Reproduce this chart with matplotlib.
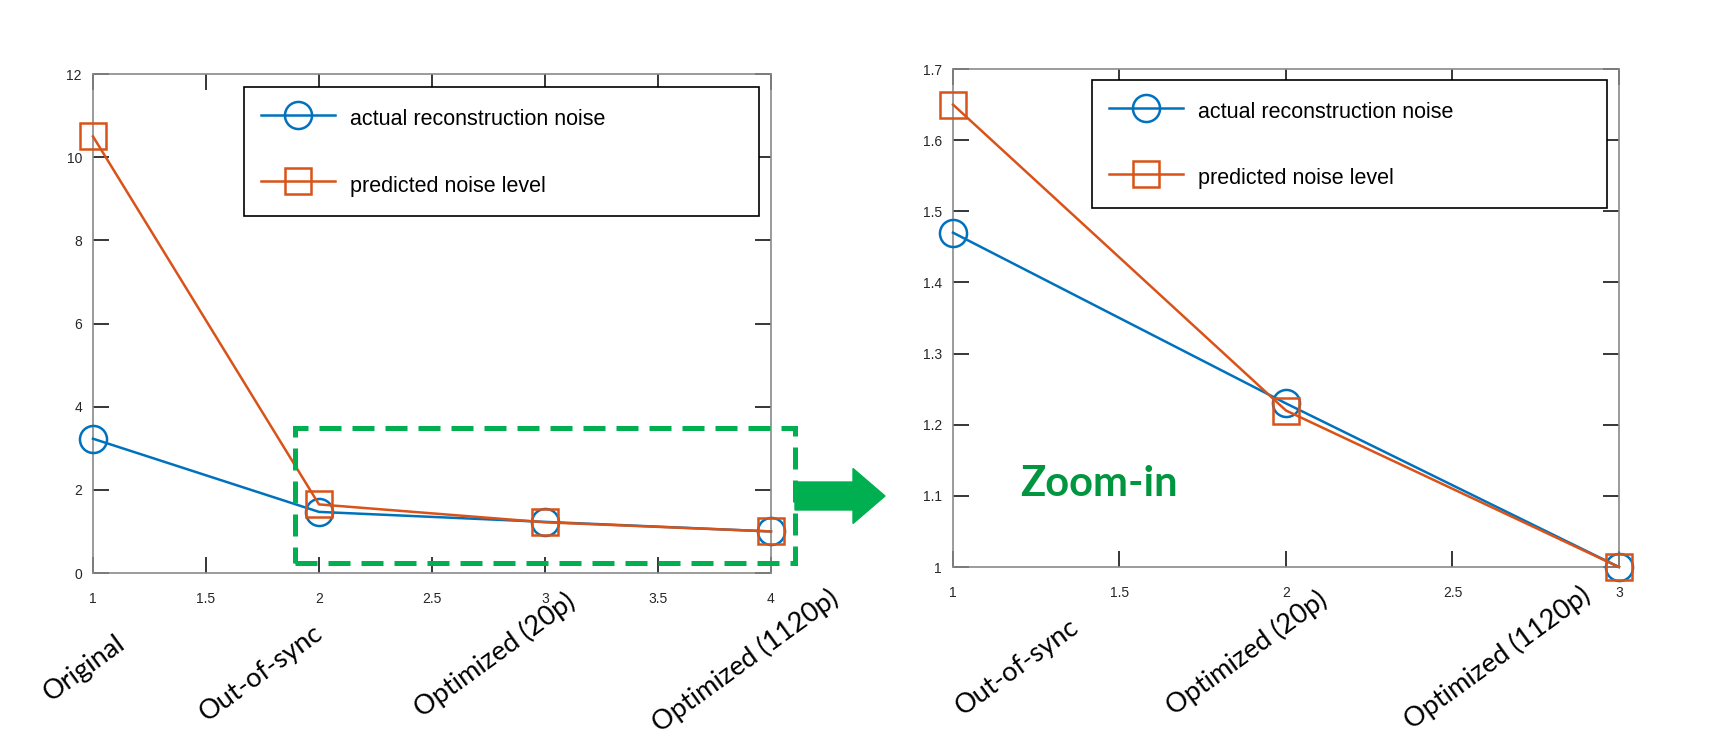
#!/usr/bin/env python

import matplotlib

matplotlib.use("Agg")
import matplotlib.pyplot as plt
import matplotlib.patches as patches

# Data
categories = ["Original", "Out-of-sync", "Optimized (20p)", "Optimized (1120p)"]
actual_noise = [3.23, 1.47, 1.23, 1.0]
predicted_noise = [10.5, 1.65, 1.22, 1.0]
full_xticks = [1, 1.5, 2, 2.5, 3, 3.5, 4]
full_yticks = [0, 2, 4, 6, 8, 10, 12]
zoom_xticks = [1, 1.5, 2, 2.5, 3]
zoom_yticks = [1, 1.1, 1.2, 1.3, 1.4, 1.5, 1.6, 1.7]
legend_labels = ["actual reconstruction noise", "predicted noise level"]

BLUE = "#0072BD"
ORANGE = "#D95319"
GREEN = "#00B050"
TICK_FONT = ["Liberation Sans", "DejaVu Sans"]
CAT_FONT = ["Lato", "DejaVu Sans"]


def style_axis(axis: plt.Axes, xticks: list, yticks: list) -> None:
    """MATLAB-like box with inward ticks on all four sides."""
    axis.set_xticks(xticks)
    axis.set_yticks(yticks)
    axis.set_xticklabels([f"{t:g}" for t in xticks])
    axis.set_yticklabels([f"{t:g}" for t in yticks])
    axis.set_xlim(xticks[0], xticks[-1])
    axis.set_ylim(yticks[0], yticks[-1])
    for spine in axis.spines.values():
        spine.set_color("#8a8a8a")
        spine.set_linewidth(1.2)
    axis.tick_params(
        direction="in", length=11.5, width=1.3, color="#262626",
        top=True, right=True, labelsize=10, labelcolor="#262626",
    )
    axis.tick_params(axis="x", pad=14)
    axis.tick_params(axis="y", pad=8)
    for lab in axis.get_xticklabels() + axis.get_yticklabels():
        lab.set_family(TICK_FONT)


def plot_series(axis: plt.Axes, xs: list, actual: list, predicted: list) -> None:
    axis.plot(xs, actual, color=BLUE, lw=1.8, marker="o", ms=19.5,
              mfc="none", mew=1.8, clip_on=False, zorder=3,
              label=legend_labels[0])
    axis.plot(xs, predicted, color=ORANGE, lw=1.8, marker="s", ms=19,
              mfc="none", mew=1.8, clip_on=False, zorder=4,
              label=legend_labels[1])


def add_legend(axis: plt.Axes, box: tuple) -> None:
    leg = axis.legend(
        loc="upper left", bbox_to_anchor=box, mode="expand",
        borderaxespad=0, borderpad=0.8, labelspacing=1.8,
        handlelength=3.4, handleheight=1.6, handletextpad=0.7,
        fancybox=False, framealpha=1, edgecolor="black",
        prop={"family": TICK_FONT, "size": 15.5},
    )
    leg.get_frame().set_linewidth(1.2)


def add_category_labels(fig: plt.Figure, names: list, anchors: list) -> None:
    for name, (px, py) in zip(names, anchors):
        fig.text(px / 1719, 1 - py / 739, name, rotation=36,
                 rotation_mode="anchor", ha="right", va="top",
                 fontsize=19.5, family=CAT_FONT, color="black")


def main() -> int:
    fig = plt.figure(figsize=(17.19, 7.39), dpi=100)
    ax_full = fig.add_axes([0.0541, 0.2246, 0.3944, 0.6752])
    ax_zoom = fig.add_axes([0.5544, 0.2327, 0.3874, 0.6739])

    xs_full = list(range(1, len(categories) + 1))
    xs_zoom = list(range(1, len(categories)))

    plot_series(ax_full, xs_full, actual_noise, predicted_noise)
    plot_series(ax_zoom, xs_zoom, actual_noise[1:], predicted_noise[1:])

    style_axis(ax_full, full_xticks, full_yticks)
    style_axis(ax_zoom, zoom_xticks, zoom_yticks)

    add_legend(ax_full, (0.223, 0.713, 0.759, 0.261))
    add_legend(ax_zoom, (0.209, 0.715, 0.773, 0.263))

    # dashed zoom region on the full chart
    rect = patches.Rectangle(
        (1.892, 0.24), 4.108 - 1.892, 3.487 - 0.24, fill=False,
        edgecolor=GREEN, lw=3.6, linestyle=(0, (4.4, 2.2)),
        clip_on=False, zorder=5,
    )
    ax_full.add_patch(rect)

    # arrow pointing to the zoomed chart
    arrow = patches.FancyArrow(
        7.95, 2.43, 0.90, 0, width=0.28, head_width=0.55, head_length=0.32,
        length_includes_head=True, color=GREEN,
        transform=fig.dpi_scale_trans, zorder=6,
    )
    fig.patches.append(arrow)

    fig.text(1020 / 1719, 1 - 496 / 739, "Zoom-in", fontsize=30,
             fontweight="bold", family=CAT_FONT, color="#00963F",
             ha="left", va="baseline")

    add_category_labels(
        fig, categories,
        [(115, 631), (313, 620), (565, 588), (828, 585)],
    )
    add_category_labels(
        fig, categories[1:],
        [(1069, 614), (1317, 586), (1580, 582)],
    )

    fig.savefig("out.png", dpi=100, facecolor="white")
    return 0


if __name__ == "__main__":
    main()
